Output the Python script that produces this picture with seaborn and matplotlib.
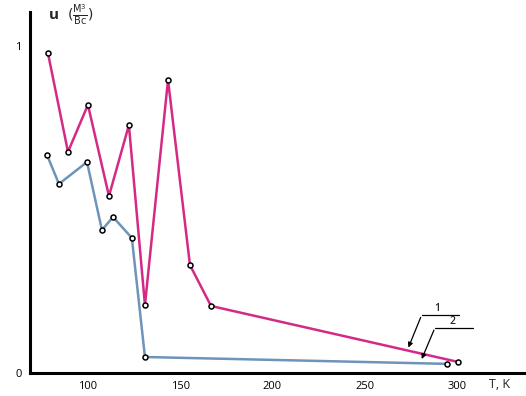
import numpy as np
import pandas as pd
import seaborn as sns
from matplotlib import pyplot as plt

sns.set_style("white")
plt.rcParams["font.family"] = ["Open Sans", "DejaVu Sans"]
plt.rcParams["mathtext.fontset"] = "dejavusans"

# curve 1 (magenta)
t_1 = [78.3, 89.2, 100.0, 111.4, 122.2, 130.9, 143.4, 155.3, 166.7, 300.5]
u_1 = [0.979, 0.676, 0.820, 0.541, 0.758, 0.208, 0.896, 0.330, 0.205, 0.034]

# curve 2 (blue)
t_2 = [77.8, 84.3, 99.5, 107.6, 113.6, 123.8, 130.9, 294.6]
u_2 = [0.667, 0.578, 0.645, 0.437, 0.477, 0.413, 0.049, 0.028]

x_ticks = [100, 150, 200, 250, 300]
y_ticks = [0, 0.5, 1]
y_tick_labels = ["0", "", "1"]

df = pd.concat([
    pd.DataFrame({"T": t_1, "u": u_1, "curve": "1"}),
    pd.DataFrame({"T": t_2, "u": u_2, "curve": "2"}),
], ignore_index=True)

fig = plt.figure(figsize=(5.26, 3.96), dpi=100)
ax = fig.add_axes([0.057, 0.058, 0.943, 0.912])

sns.lineplot(data=df, x="T", y="u", hue="curve", palette={"1": "#d42a86", "2": "#6e94b8"},
             marker="o", markersize=3.6, markerfacecolor="white", markeredgecolor="black",
             markeredgewidth=1.1, linewidth=1.8, sort=False, legend=False, ax=ax)

ax.set_xlim(68.6, 337.4)
ax.set_ylim(0, 1.104)
ax.set_xticks(x_ticks)
ax.set_yticks(y_ticks)
ax.set_yticklabels(y_tick_labels)
ax.tick_params(direction="in", length=3, width=1.5, labelsize=8, colors="black")
ax.tick_params(axis="x", pad=6)
ax.tick_params(axis="y", pad=6)
ax.set_xlabel("")
ax.set_ylabel("")
sns.despine(ax=ax)
for side in ["left", "bottom"]:
    ax.spines[side].set_linewidth(2.2)
    ax.spines[side].set_color("black")

# leader lines with arrows for curve labels
ax.plot([280.9, 301.0], [0.178, 0.178], color="black", lw=0.9)
ax.annotate("", xy=(273.1, 0.070), xytext=(280.9, 0.178),
            arrowprops=dict(arrowstyle="-|>", color="black", lw=0.9, mutation_scale=7))
ax.text(289.2, 0.181, "1", fontsize=7.5, fontweight="semibold", ha="center", va="bottom")
ax.plot([288.1, 308.7], [0.139, 0.139], color="black", lw=0.9)
ax.annotate("", xy=(280.3, 0.035), xytext=(288.1, 0.139),
            arrowprops=dict(arrowstyle="-|>", color="black", lw=0.9, mutation_scale=7))
ax.text(297.6, 0.142, "2", fontsize=7.5, fontweight="semibold", ha="center", va="bottom")

# axis titles
fig.text(0.093, 0.962, "u", fontsize=11, fontweight="bold", ha="left", va="center")
fig.text(0.128, 0.962, r"$(\frac{\mathrm{М}^3}{\mathrm{Вс}})$", fontsize=10, ha="left", va="center")
fig.text(0.93, 0.03, "T, K", fontsize=9, ha="left", va="center")

plt.savefig("out.png", dpi=100)
plt.close()
